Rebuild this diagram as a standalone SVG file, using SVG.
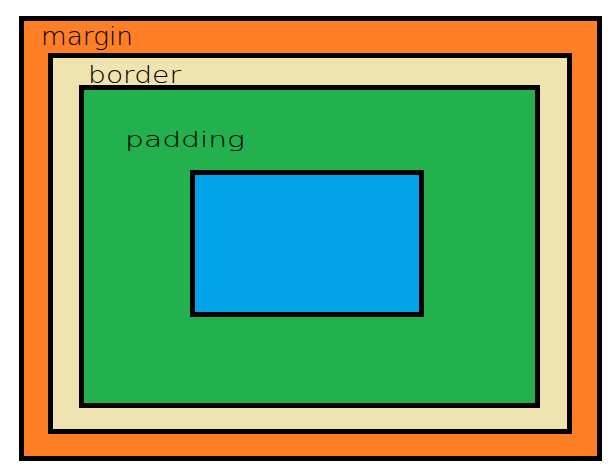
<svg xmlns="http://www.w3.org/2000/svg" width="612" height="471" viewBox="0 0 612 471">
<style>
.box{stroke:#000;stroke-width:5}
.lbl{font-family:"DejaVu Sans",sans-serif;font-weight:200;fill:#000}
</style>
<rect width="612" height="471" fill="#fff"/>
<g id="margin">
<rect class="box" x="21.5" y="18.5" width="578" height="440" fill="#FF7F27"/>
<text class="lbl" x="41" y="45" font-size="24" textLength="92" lengthAdjust="spacingAndGlyphs">margin</text>
</g>
<g id="border">
<rect class="box" x="50.5" y="55.5" width="519" height="376" fill="#EFE4B0"/>
<text class="lbl" x="88" y="83" font-size="23" textLength="93" lengthAdjust="spacingAndGlyphs">border</text>
</g>
<g id="padding">
<rect class="box" x="81.5" y="87.5" width="456" height="318" fill="#22B14C"/>
<text class="lbl" x="125" y="147" font-size="21" textLength="120" lengthAdjust="spacingAndGlyphs">padding</text>
</g>
<g id="content">
<rect class="box" x="192.5" y="172.5" width="229" height="142" fill="#00A2E8"/>
</g>
<g id="connectors"></g>
</svg>
